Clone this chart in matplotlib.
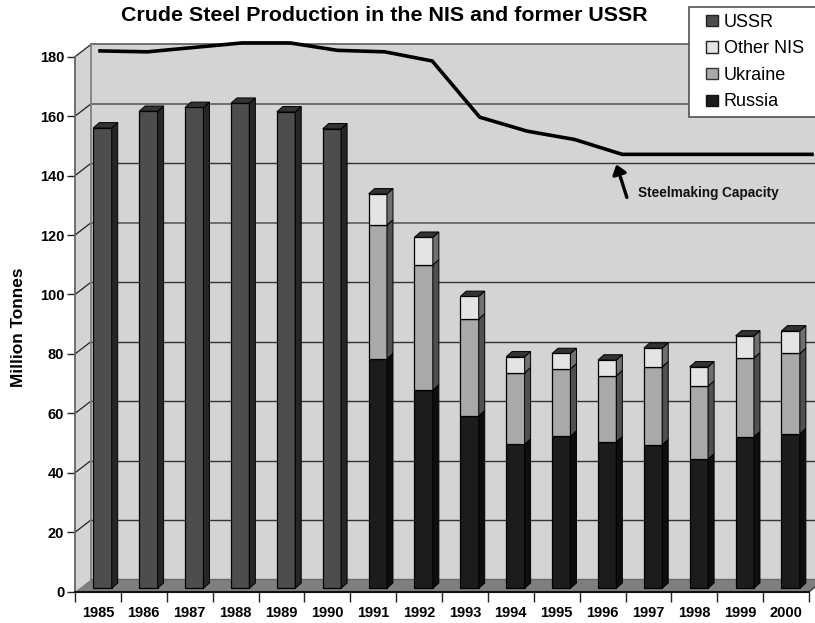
import numpy as np
import matplotlib
matplotlib.use("Agg")
import matplotlib.pyplot as plt
from matplotlib.patches import Polygon, Patch, Rectangle
from matplotlib.legend_handler import HandlerPatch

plt.rcParams['font.family'] = ['Liberation Sans', 'DejaVu Sans']

# === Data (million tonnes) ===
years = [1985, 1986, 1987, 1988, 1989, 1990, 1991, 1992, 1993, 1994, 1995, 1996, 1997, 1998, 1999, 2000]
ussr = [154.9, 160.5, 161.8, 163.2, 160.3, 154.6, 0, 0, 0, 0, 0, 0, 0, 0, 0, 0]
russia = [0, 0, 0, 0, 0, 0, 77.2, 66.7, 58.0, 48.5, 51.2, 49.3, 48.3, 43.5, 51.0, 52.0]
ukraine = [0, 0, 0, 0, 0, 0, 45.0, 42.1, 32.6, 24.0, 22.6, 22.2, 26.2, 24.5, 26.5, 27.0]
other_nis = [0, 0, 0, 0, 0, 0, 10.5, 9.3, 7.6, 5.4, 5.2, 5.3, 6.3, 6.5, 7.4, 7.6]
capacity = [180.8, 180.5, 182.0, 183.5, 183.5, 181.0, 180.5, 177.4, 158.5, 153.8, 151.0, 146.0, 146.0, 146.0, 146.0, 146.0]

# === Pseudo 3D settings ===
W, H = 815, 623
px_x = 734 / 16    # pixels per category
px_y = 535 / 180   # pixels per million tonnes
wall_dx = 16 / px_x
wall_dy = 12.3 / px_y
bar_dx = 6 / px_x
bar_dy = 5.3 / px_y
bar_lift = 3.4 / px_y
bar_width = 18.4 / px_x
bar_shift = 0.6

fig = plt.figure(figsize=(W / 100, H / 100), dpi=100)
pos = [75 / W, (H - 591.7) / H, 734 / W, 535 / H]
ax = fig.add_axes(pos)
ax.set_xlim(0, 16)
ax.set_ylim(0, 180)
ax.patch.set_visible(False)

# back wall, side wall and floor
ax.add_patch(Polygon([(wall_dx, wall_dy), (16 + wall_dx, wall_dy), (16 + wall_dx, 180 + wall_dy), (wall_dx, 180 + wall_dy)],
                     facecolor='#d4d4d4', edgecolor='none', clip_on=False, zorder=1))
ax.add_patch(Polygon([(0, 0), (wall_dx, wall_dy), (wall_dx, 180 + wall_dy), (0, 180)],
                     facecolor='#d4d4d4', edgecolor='none', clip_on=False, zorder=1))

ticks = np.arange(0, 181, 20)
for v in ticks[1:]:
    col, lw = ('#666666', 1.3) if v in (120, 160, 180) else ('#333333', 1.0)
    ax.plot([wall_dx, 16 + wall_dx], [v + wall_dy, v + wall_dy], color=col, lw=lw, clip_on=False, zorder=2)
    ax.plot([0, wall_dx], [v, v + wall_dy], color='#222222', lw=0.9, clip_on=False, zorder=2)
ax.plot([wall_dx, wall_dx], [wall_dy, 180 + wall_dy], color='#808080', lw=1.3, clip_on=False, zorder=2)

ax.add_patch(Polygon([(0, 0), (16, 0), (16 + wall_dx, wall_dy), (wall_dx, wall_dy)],
                     facecolor='#7f7f7f', edgecolor='none', clip_on=False, zorder=2))
ax.plot([wall_dx, 16 + wall_dx], [wall_dy, wall_dy], color='#6a6a6a', lw=1, clip_on=False, zorder=2)

# === Stacked bars ===
x = np.arange(len(years)) + bar_shift
styles = [
    (ussr, '#4d4d4d', '#262626'),
    (russia, '#1c1c1c', '#0e0e0e'),
    (ukraine, '#a9a9a9', '#505050'),
    (other_nis, '#e4e4e4', '#707070'),
]
bottom = np.zeros(len(years)) + bar_lift
for i, (vals, front, side) in enumerate(styles):
    vals = np.array(vals)
    mask = vals > 0
    ax.bar(x[mask], vals[mask], bar_width, bottom=bottom[mask], color=front,
           edgecolor='black', linewidth=0.9, clip_on=False, zorder=4 + i)
    for xi, b, v in zip(x[mask], bottom[mask], vals[mask]):
        r = xi + bar_width / 2
        ax.add_patch(Polygon([(r, b), (r + bar_dx, b + bar_dy), (r + bar_dx, b + v + bar_dy), (r, b + v)],
                             facecolor=side, edgecolor='black', linewidth=0.7, clip_on=False, zorder=4 + i))
    bottom = bottom + vals

for xi, t in zip(x, bottom):
    l = xi - bar_width / 2
    r = xi + bar_width / 2
    ax.add_patch(Polygon([(l, t), (r, t), (r + bar_dx, t + bar_dy), (l + bar_dx, t + bar_dy)],
                         facecolor='#333333', edgecolor='black', linewidth=0.7, clip_on=False, zorder=9))

# === Axes ===
for s in ['top', 'right']:
    ax.spines[s].set_visible(False)
ax.spines['left'].set_color('#666666')
ax.spines['left'].set_linewidth(1.3)
ax.spines['left'].set_zorder(3)
ax.spines['bottom'].set_color('#111111')
ax.spines['bottom'].set_linewidth(1.5)
ax.spines['bottom'].set_zorder(3)
ax.plot([16, 16 + 6 / px_x], [0, 4.6 / px_y], color='#333333', lw=1, clip_on=False, zorder=3)

ax.set_yticks(ticks)
ax.set_yticklabels([str(v) for v in ticks], fontsize=10.5, fontweight='bold')
ax.tick_params(axis='y', length=5.8, width=1, pad=2, color='#222222')
ax.set_xticks(np.arange(17))
ax.set_xticklabels([])
ax.tick_params(axis='x', which='major', length=7, width=1, color='#222222')
ax.set_xticks(np.arange(16) + 0.5, minor=True)
ax.set_xticklabels([str(y) for y in years], minor=True, fontsize=10.5, fontweight='bold')
ax.tick_params(axis='x', which='minor', length=0, pad=10)

fig.text(18.5 / W, 1 - 327 / H, "Million Tonnes", rotation=90, ha='center', va='center', fontsize=12.4, fontweight='bold')
fig.text(384.5 / W, 1 - 15.5 / H, "Crude Steel Production in the NIS and former USSR", ha='center', va='center',
         fontsize=15.4, fontweight='bold')

# === Capacity line (its own horizontal scale, it runs wider than the bars) ===
ax2 = fig.add_axes(pos)
ax2.axis('off')
ax2.set_xlim(-(100 - 75) / 47.47, 15 + (809 - 812) / 47.47)
ax2.set_ylim(-bar_lift, 180 - bar_lift)
ax2.plot(np.arange(len(capacity)), capacity, color='black', lw=2.6, clip_on=False, solid_joinstyle='miter', zorder=10)
ax2.annotate("", xy=(10.88, 142.6), xytext=(11.1, 131.5),
             arrowprops=dict(arrowstyle='-|>,head_width=0.42,head_length=0.55', color='black', lw=2.4, shrinkA=0, shrinkB=0))
ax2.text(11.34, 133.0, "Steelmaking Capacity", fontsize=9.8, fontweight='bold', va='center', ha='left', color='#111111')


# === Legend ===
def small_square(legend, orig_handle, xdescent, ydescent, width, height, fontsize):
    # 8pt square pushed to the right end of the handle slot
    return Rectangle((width - 8 - xdescent, (height - 8) / 2 - ydescent), 8, 8)


handles = [Patch(facecolor='#4d4d4d', edgecolor='#222222', label='USSR'),
           Patch(facecolor='#e4e4e4', edgecolor='#222222', label='Other NIS'),
           Patch(facecolor='#a9a9a9', edgecolor='#333333', label='Ukraine'),
           Patch(facecolor='#1c1c1c', edgecolor='#111111', label='Russia')]
leg = fig.legend(handles=handles, loc='upper left', bbox_to_anchor=(689 / W, 1 - 7 / H, 140 / W, 0), mode='expand',
                 borderaxespad=0, fontsize=13, frameon=True, fancybox=False, framealpha=1, edgecolor='#444444',
                 handlelength=1.22, handleheight=0.8, handletextpad=0.35, labelspacing=0.52, borderpad=0.36,
                 handler_map={Patch: HandlerPatch(patch_func=small_square)})
leg.get_frame().set_linewidth(1.1)
leg.set_zorder(20)

plt.savefig("out.png", dpi=100)
